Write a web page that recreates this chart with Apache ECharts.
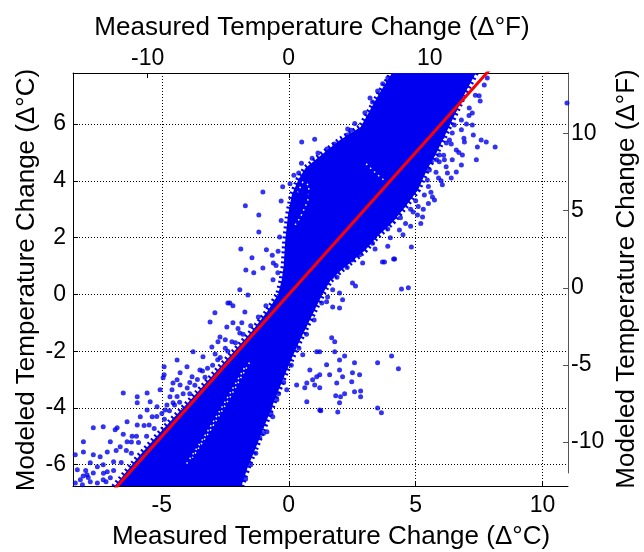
<!DOCTYPE html>
<html><head><meta charset="utf-8">
<script src="https://cdn.jsdelivr.net/npm/echarts@6/dist/echarts.min.js"></script>
<style>html,body{margin:0;padding:0;background:#fff}#c{width:644px;height:552px}</style>
</head><body><div id="c"></div>
<script>
// ---- tick values ----
const xTicksC = [-5, 0, 5, 10];
const yTicksC = [-6, -4, -2, 0, 2, 4, 6];
const xTicksF = [-10, 0, 10];
const yTicksF = [-10, -5, 0, 5, 10];

// ---- 1:1 reference line ----
const fitX = [-7.5, 8.5];
const fitY = [-7.5, 8.5];

// ---- dense core of the point cloud (outline, data units) ----
const coreX = [4.10, 7.40, 6.95, 6.55, 6.15, 5.80, 5.45, 5.10, 4.60, 4.10, 3.50, 3.00, 2.40, 2.00, 1.65, 1.35,
  1.05, 0.75, 0.45, 0.18, -0.14, -0.55, -0.94, -1.30, -1.62, -1.90, -6.95,
  -5.90, -4.90, -3.90, -2.95, -2.15, -1.45, -0.85, -0.42, -0.28, -0.20, -0.14, -0.03, 0.12, 0.38, 0.66, 1.33, 2.03, 2.83, 3.58];
const coreY = [7.85, 7.85, 7.10, 6.35, 5.60, 4.95, 4.40, 3.70, 3.10, 2.55, 2.05, 1.55, 1.10, 0.80, 0.50, 0.05,
  -0.50, -1.05, -1.60, -2.13, -2.80, -3.70, -4.60, -5.40, -6.10, -6.85, -6.85,
  -5.70, -4.70, -3.75, -2.80, -2.00, -1.30, -0.60, 0.00, 0.50, 1.00, 1.90, 2.80, 3.50, 4.05, 4.45, 4.95, 5.45, 5.90, 7.10];

// ---- sparse (speckled) strips inside the core ----
const streakX = [-1.55, -2.30, -3.10, -3.80];
const streakY = [-2.40, -3.60, -4.80, -5.75];
const streak2X = [-1.75, -2.55, -3.35, -4.05];
const streak2Y = [-2.60, -3.85, -5.05, -6.00];
const loopX = [0.25, 0.45, 0.75, 0.80, 0.55, 0.35];
const loopY = [2.45, 2.70, 3.30, 3.85, 3.95, 3.60];
const patchX = [3.05, 3.45, 3.85];
const patchY = [4.60, 4.25, 3.95];

// ---- scattered points around the core ----
const upperLeftPts = [[0.51,5.37],[1.02,5.47],[0.39,4.28],[-1.02,3.61],[-1.71,3.12],[-1.18,2.80],[-0.30,3.29],[-1.18,2.20],
  [-1.89,1.60],[-0.88,1.57],[-1.45,1.29],[-0.65,1.38],[-1.69,0.86],[-1.38,0.76],[-1.02,0.93],[-0.61,1.11],[-0.43,0.76],
  [-0.24,3.79],[0.71,3.50],[2.32,5.83],[3.50,7.17],[3.30,6.78],
  [0.20,4.20],[0.50,4.62],[0.92,4.80],[1.50,5.12],[1.80,5.30],[2.30,5.62],[2.60,6.02],[3.00,6.40],[3.20,6.92],[3.70,7.42],
  [3.90,7.62],[-0.30,2.60],[-0.36,2.02],[-0.42,1.52],[-0.50,1.02],[-0.62,0.52],[0.05,3.90],[1.15,4.98],[2.45,5.78]];
const upperRightPts = [[7.54,6.81],[7.23,6.39],[7.23,5.97],[7.27,5.62],[7.58,5.44],[7.78,5.37],[8.13,5.19],[7.43,5.19],
  [7.39,4.74],[6.92,5.37],[6.60,5.09],[6.84,4.91],[6.44,4.74],[6.80,4.56],[6.60,4.31],[6.25,4.28],[6.40,4.10],[6.05,3.86],
  [6.21,5.33],[5.93,4.91],[6.05,5.55],[6.44,5.69],[5.66,3.43],[5.74,3.33],[5.07,2.80],[5.27,2.73],[4.17,2.73],[4.36,2.27],
  [3.50,2.20],[3.69,2.87],[4.83,1.67],[3.77,1.14],[4.17,1.25],[2.48,1.21],[5.93,4.67],[5.46,4.03],[5.62,4.67],[5.27,5.19],
  [5.62,6.14],[6.21,6.14],[6.52,6.50],[6.72,7.31],[7.19,7.69],[10.96,6.74],
  [4.36,3.86],[4.75,4.21],[4.95,3.68],[5.34,3.50],[4.56,3.15],[4.17,3.33],[5.15,4.56],[5.54,4.38],[5.82,4.74],[6.13,4.74],
  [4.83,4.74],[5.34,5.09],[5.74,5.26],[6.33,5.44],[5.93,5.79],[6.52,5.97],[6.80,6.14],[7.11,6.57],[7.35,7.02],[7.70,7.38],
  [7.82,7.62],[3.69,1.14],[4.13,1.25],[3.46,2.48],[2.91,1.11],[2.51,1.25],
  [5.00,3.30],[4.80,3.00],[4.40,2.70],[3.90,2.30],[3.30,1.80],[2.80,1.40],[2.30,0.95],[1.90,0.60],[5.80,4.30],[6.10,4.90],
  [6.40,5.30],[6.80,5.80],[7.10,6.30],[7.50,7.00],
  [4.90,2.90],[5.10,3.10],[5.50,3.80],[5.90,4.10],[4.60,2.50],[4.00,2.00],[3.40,1.60],[3.90,1.70],[4.50,2.10],[5.30,3.00],
  [5.60,3.60],[6.20,4.50],[6.00,4.00],[6.70,5.00],[6.90,5.50],[7.00,6.00],[5.20,2.50],[5.50,3.20],[4.80,2.40]];
const lowerRightPts = [[2.51,0.40],[2.63,0.30],[4.44,0.19],[4.71,0.23],[1.69,0.62],[1.53,-0.09],[1.73,0.16],[2.00,0.05],
  [2.12,-0.19],[1.49,-0.26],[1.73,-0.44],[2.00,-0.48],[1.69,-1.53],[1.81,-1.67],[1.22,-2.02],[1.81,-2.02],[2.20,-2.17],
  [1.49,-2.48],[2.00,-2.31],[2.59,-2.41],[3.50,-2.41],[4.05,-2.17],[4.32,-2.62],[1.22,-2.83],[1.61,-2.83],[2.00,-2.66],
  [2.12,-2.90],[2.51,-2.76],[2.79,-2.83],[2.48,-3.08],[1.89,-3.12],[1.02,-3.19],[0.63,-3.29],[1.22,-3.29],[2.83,-3.40],
  [2.59,-3.43],[2.20,-3.50],[1.85,-3.57],[2.04,-3.61],[2.83,-3.61],[0.71,-3.78],[2.00,-3.82],[1.26,-4.10],[1.93,-4.14],
  [3.50,-4.00],[3.65,-4.17],[0.94,-3.01],[0.55,-2.13],[1.10,-2.02],[0.83,-2.66],[1.10,-2.90],[0.31,-3.19],[0.71,-3.12],
  [-0.08,-3.36],[-0.47,-3.71],[-0.75,-4.00],[-0.63,-4.31],[-1.06,-4.60],[-0.86,-4.84],[-1.14,-5.05],[-1.41,-5.23],
  [1.22,-4.07],[-1.81,-5.72],[-1.93,-6.18],[-2.24,-6.60],
  [1.30,-0.30],[1.00,-0.90],[0.70,-1.40],[0.40,-1.90],[0.10,-2.50],[-0.20,-3.10],[-0.40,-3.50],[-0.70,-4.20],
  [-1.00,-4.90],[-1.30,-5.60],[-1.50,-6.00],[-1.70,-6.50]];
const lowerLeftPts = [[-3.10,-0.97],[-2.32,-0.30],[-1.93,0.16],[-1.61,-0.02],[-2.20,-1.00],[-2.79,-1.67],[-3.77,-2.02],
  [-4.40,-2.31],[-4.91,-2.55],[-4.91,-2.83],[-3.50,-2.66],[-3.81,-2.90],[-4.28,-3.19],[-4.60,-3.36],[-4.16,-3.50],
  [-4.56,-3.82],[-4.87,-4.07],[-1.73,-0.62],[-1.93,-1.36],[-2.40,-0.30],[-2.20,-0.40],[-1.85,-1.00],[-2.24,-1.67],
  [-4.95,-2.94],[-6.52,-3.47],[-5.97,-3.61],[-5.07,-3.36],[-4.68,-3.61],[-5.19,-3.96],[-5.58,-4.07],[-5.85,-4.31],
  [-5.38,-4.31],[-6.37,-4.49],[-5.97,-4.60],[-6.76,-4.70],[-7.31,-4.66],[-7.70,-4.70],[-6.84,-4.77],[-6.52,-4.93],
  [-6.17,-5.00],[-7.03,-5.19],[-6.37,-5.19],[-6.64,-5.37],[-7.15,-5.55],[-8.09,-5.19],[-8.09,-5.55],[-7.70,-5.65],
  [-7.43,-5.72],[-7.82,-5.93],[-7.54,-6.07],[-7.31,-6.00],[-8.41,-5.65],[-8.33,-6.18],[-7.70,-6.29],[-7.15,-6.25],
  [-8.21,-6.53],[-7.82,-6.60],[-7.31,-6.53],[-8.41,-6.64],[-8.13,-6.71],[-7.54,-6.64],[-7.03,-6.46],[-5.97,-3.82],
  [-5.46,-3.78],[-4.40,-3.01],[-2.91,-0.65],[-2.44,-1.15],[-2.71,-1.50],[-3.03,-1.85],[-3.38,-2.20],[-4.01,-2.55],
  [-4.28,-2.76],[-4.56,-3.12],[-5.58,-3.47],[-5.50,-4.60],[-5.00,-4.20],[-4.50,-3.90],[-4.00,-3.30],[-3.60,-3.00],
  [-3.20,-2.60],[-2.80,-2.30],[-2.50,-1.90],[-6.00,-5.00],[-6.40,-5.50],[-6.90,-5.90],[-7.30,-6.30],
  [-8.00,-6.20],[-7.95,-6.35],[-8.10,-6.40],[-7.90,-6.45],
  [-7.20,-6.60],[-6.90,-6.20],[-6.60,-5.92],[-6.20,-5.60],[-5.92,-5.22],[-5.60,-5.00],[-5.30,-4.72],[-4.90,-4.40],
  [-4.70,-4.10],[-4.30,-3.80],[-3.90,-3.50],[-3.70,-3.20],[-3.30,-2.92],[-3.00,-2.50],[-2.70,-2.22],[-2.40,-2.00],
  [-2.10,-1.70],[-1.80,-1.40],[-1.50,-1.10],[-1.20,-0.80],[-0.90,-0.40],[-6.80,-5.50],[-6.20,-5.20],[-5.70,-4.62],
  [-5.20,-4.30],[-4.80,-3.90],[-4.40,-3.60],[-3.90,-3.10],[-3.40,-2.70],[-2.90,-2.10],[-2.50,-1.60],[-2.00,-1.20]];

const BLUE = '#0000f0';
const FONT = 'Liberation Sans, Arial, Helvetica, sans-serif';
const chart = echarts.init(document.getElementById('c'), null, {renderer: 'canvas'});

function ptsSeries(arr) {
  return {type: 'scatter', xAxisIndex: 0, yAxisIndex: 0, data: arr, symbol: 'circle', symbolSize: 5,
    itemStyle: {color: BLUE}, silent: true, z: 4};
}
function shapeSeries(kind, xs, ys, style, z) {
  return {type: 'custom', xAxisIndex: 0, yAxisIndex: 0, data: [0], clip: true, silent: true, z: z,
    renderItem: function (params, api) {
      const pts = xs.map(function (x, i) { return api.coord([x, ys[i]]); });
      return {type: kind, shape: {points: pts}, style: style};
    }};
}
const speckle = {fill: null, stroke: '#fff', lineWidth: 1.5, lineDash: [1.5, 4]};

const tickLbl = {color: '#000', fontSize: 23, fontFamily: FONT};
const grid = {show: true, lineStyle: {color: '#000', width: 1, type: [1, 2]}};
const titleStyle = {align: 'center', verticalAlign: 'middle', fontSize: 26, fontFamily: FONT, fill: '#000'};

chart.setOption({
  animation: false,
  backgroundColor: '#fff',
  grid: [
    {left: 73, top: 73, width: 495, height: 413},
    {left: 73, top: 73, width: 495, height: 400}
  ],
  xAxis: [
    {type: 'value', gridIndex: 0, position: 'bottom', min: -8.5, max: 11,
      axisLine: {show: true, onZero: false, lineStyle: {color: '#000', width: 1}},
      axisTick: {show: true, inside: true, length: 5, customValues: xTicksC, lineStyle: {color: '#000'}},
      axisLabel: Object.assign({margin: 8, customValues: xTicksC}, tickLbl),
      splitLine: grid},
    {type: 'value', gridIndex: 1, position: 'top', min: -15.3, max: 19.8,
      axisLine: {show: true, onZero: false, lineStyle: {color: '#000', width: 1}},
      axisTick: {show: true, inside: true, length: 5, customValues: xTicksF, lineStyle: {color: '#000'}},
      axisLabel: Object.assign({margin: 3, customValues: xTicksF}, tickLbl),
      splitLine: {show: false}}
  ],
  yAxis: [
    {type: 'value', gridIndex: 0, position: 'left', min: -6.75, max: 7.8,
      axisLine: {show: true, onZero: false, lineStyle: {color: '#000', width: 1}},
      axisTick: {show: true, inside: true, length: 5, customValues: yTicksC, lineStyle: {color: '#000'}},
      axisLabel: Object.assign({margin: 7, customValues: yTicksC}, tickLbl),
      splitLine: grid},
    {type: 'value', gridIndex: 1, position: 'right', min: -12, max: 13.92,
      axisLine: {show: true, onZero: false, lineStyle: {color: '#555', width: 1}},
      axisTick: {show: true, inside: true, length: 5, customValues: yTicksF, lineStyle: {color: '#555'}},
      axisLabel: Object.assign({margin: 3, customValues: yTicksF}, tickLbl),
      splitLine: {show: false}}
  ],
  graphic: [
    {type: 'text', x: 312, y: 28, style: Object.assign({text: 'Measured Temperature Change (Δ°F)'}, titleStyle)},
    {type: 'text', x: 331, y: 537, style: Object.assign({text: 'Measured Temperature Change (Δ°C)'}, titleStyle)},
    {type: 'text', x: 27, y: 280, rotation: Math.PI / 2, style: Object.assign({text: 'Modeled Temperature Change (Δ°C)'}, titleStyle)},
    {type: 'text', x: 627, y: 279, rotation: Math.PI / 2, style: Object.assign({text: 'Modeled Temperature Change (Δ°F)'}, titleStyle)}
  ],
  series: [
    shapeSeries('polygon', coreX, coreY, {fill: BLUE, stroke: BLUE, lineWidth: 6, lineDash: [2, 3]}, 2),
    shapeSeries('polyline', streakX, streakY, speckle, 3),
    shapeSeries('polyline', streak2X, streak2Y, speckle, 3),
    shapeSeries('polyline', loopX, loopY, speckle, 3),
    shapeSeries('polyline', patchX, patchY, speckle, 3),
    ptsSeries(upperLeftPts),
    ptsSeries(upperRightPts),
    ptsSeries(lowerRightPts),
    ptsSeries(lowerLeftPts),
    {type: 'line', xAxisIndex: 0, yAxisIndex: 0, data: fitX.map(function (x, i) { return [x, fitY[i]]; }),
      symbol: 'none', clip: true, silent: true, z: 5, lineStyle: {color: '#ff0000', width: 3}}
  ]
});
</script>
</body></html>
